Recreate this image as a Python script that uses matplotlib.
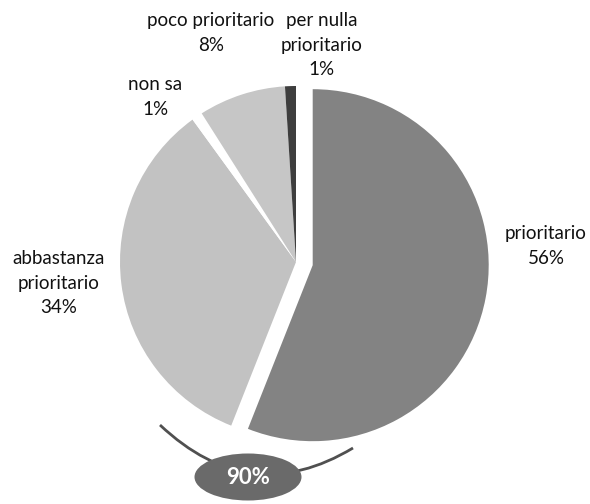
import matplotlib.pyplot as plt
from matplotlib.patches import Ellipse, PathPatch
from matplotlib.path import Path

# dati
categorie = ['prioritario', 'abbastanza\nprioritario', 'non sa', 'poco prioritario', 'per nulla\nprioritario']
valori = [56, 34, 1, 8, 1]
colori = ['#838383', '#c2c2c2', '#ffffff', '#c6c6c6', '#3e3e3e']
totale_label = '90%'

W, H = 590, 504
cx, cy, r = 296, H - 262, 176
# in pie() l'explode e' in unita' assolute (qui pixel)
esplosione = [17, 0, 0, 0, 0]

fig = plt.figure(figsize=(5.9, 5.04), dpi=100)
ax = fig.add_axes([0, 0, 1, 1])

ax.pie(valori, colors=colori, startangle=90, counterclock=False,
       center=(cx, cy), radius=r, explode=esplosione,
       wedgeprops=dict(linewidth=0))

# pie() reimposta i limiti: li rimetto in pixel
ax.set_xlim(0, W)
ax.set_ylim(0, H)
ax.set_aspect('equal')
ax.axis('off')

# etichette (posizioni in pixel dall'alto)
pos_label = [(546, 246), (59, 283), (155, 97), (211, 33), (322, 45)]
font = dict(family='Lato', fontsize=13.5, color='#111111', ha='center', va='center',
            linespacing=1.55)
for cat, v, (x, y) in zip(categorie, valori, pos_label):
    ax.text(x, H - y, f'{cat}\n{v}%', **font)

# arco + ovale del totale
p0 = (160, H - 425)
p1 = (250, H - 510)
p2 = (353, H - 448)
arco = Path([p0, p1, p2], [Path.MOVETO, Path.CURVE3, Path.CURVE3])
ax.add_patch(PathPatch(arco, fill=False, edgecolor='#505050', linewidth=2))
ax.add_patch(Ellipse((248, H - 477), 107, 47, facecolor='#6a6a6a', edgecolor='none'))
ax.text(248, H - 477, totale_label, fontsize=16, fontweight='bold', color='white',
        ha='center', va='center', family='Lato')

fig.savefig('out.png', dpi=100)
